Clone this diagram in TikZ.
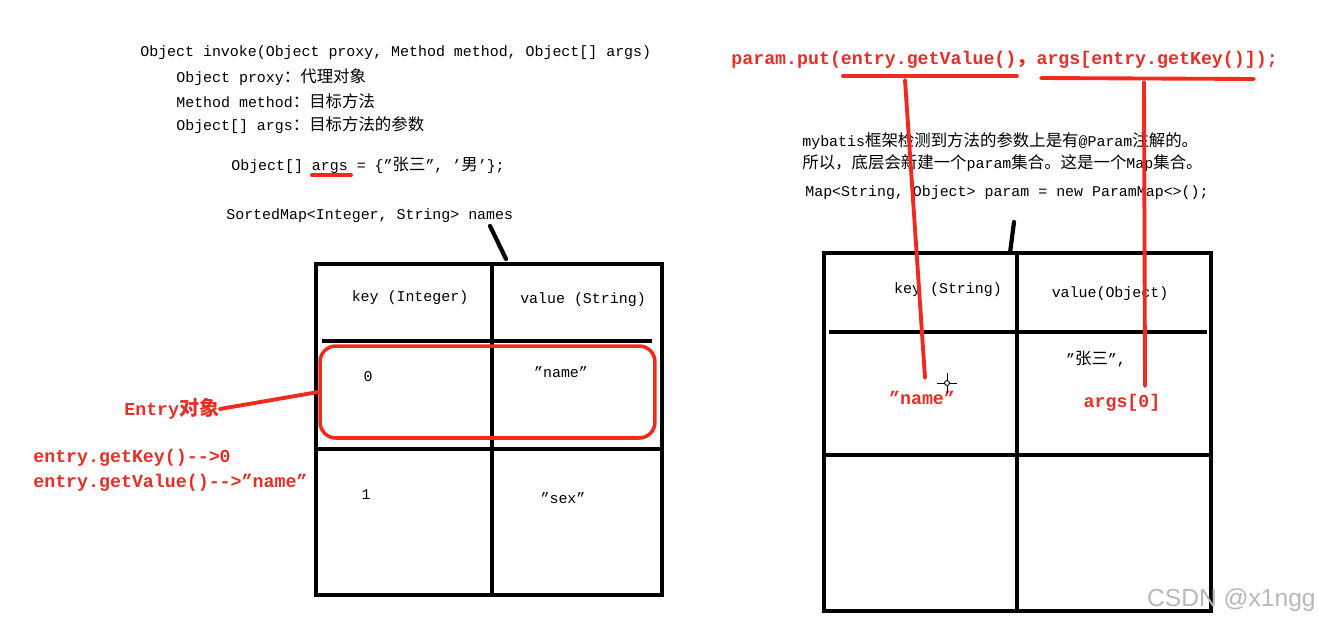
\documentclass[tikz,border=0pt]{standalone}
\usepackage{fontspec}
\setmainfont{Liberation Mono}
\newfontfamily\cjk[Scale=1.1]{Noto Sans CJK SC}
\newfontfamily\wmfont{Liberation Sans}
\newcommand\zh[1]{{\cjk #1}}
\definecolor{myred}{RGB}{240,42,30}
\definecolor{redtext}{RGB}{228,48,38}
\begin{document}
\begin{tikzpicture}[x=0.02cm,y=-0.02cm,
  blk/.style={font=\fontsize{8.5}{10}\selectfont, inner sep=0pt, anchor=west},
  ctr/.style={font=\fontsize{8.5}{10}\selectfont, inner sep=0pt, anchor=center},
  rd/.style={font=\fontsize{10.4}{12}\selectfont\bfseries, text=redtext, inner sep=0pt, anchor=west},
  rdc/.style={font=\fontsize{10.4}{12}\selectfont\bfseries, text=redtext, inner sep=0pt, anchor=center},
  tab/.style={line width=2.6pt, draw=black},
  redln/.style={draw=myred, line width=2.2pt, line cap=round},
  blkln/.style={draw=black, line width=2.4pt, line cap=round}]
\useasboundingbox (0,0) rectangle (1318,622);
\fill[white] (0,0) rectangle (1318,622);

% ---------- left text block ----------
\node[blk] (sig) at (140,53) {Object invoke(Object proxy, Method method, Object[] args)};
\node[blk] (p1) at (176,77) {Object proxy\zh{：代理对象}};
\node[blk] (p2) at (176,101) {Method method\zh{：目标方法}};
\node[blk] (p3) at (176,125) {Object[] args\zh{：目标方法的参数}};
\node[blk] (argsdef) at (231,165) {Object[] args = \{"\zh{张三}", '\zh{男}'\};};
\coordinate (ua1) at (312,175);
\coordinate (ua2) at (351,175);
\draw[redln] (ua1) -- (ua2);
\node[blk] (sm) at (226,216) {SortedMap<Integer, String> names};
\coordinate (nm1) at (490,226);
\coordinate (nm2) at (506,259);
\draw[blkln] (nm1) -- (nm2);

% ---------- left table ----------
\draw[tab] (316,264) rectangle (662,595);
\draw[tab] (492,264) -- (492,595);
\draw[tab] (322,341) -- (652,341);
\draw[tab] (316,449) -- (662,449);
\node[ctr] (lkh) at (410,298) {key (Integer)};
\node[ctr] (lvh) at (583,300) {value (String)};
\node[ctr] (k0) at (368,377) {0};
\node[ctr] (v0) at (561,372) {"name"};
\node[ctr] (k1) at (366,495) {1};
\node[ctr] (v1) at (563,498) {"sex"};
\node[draw=myred, line width=2pt, rounded corners=9pt, inner sep=0pt,
      minimum width=6.7cm, minimum height=1.84cm] (entrybox) at (487.5,392) {};

\node[rd] (entry) at (124,409) {Entry\zh{对象}};
\draw[redln] (entry.east) -- (entrybox.west);
\node[rd] (gk) at (33,458) {entry.getKey()-{}->0};
\node[rd] (gv) at (33,483) {entry.getValue()-{}->"name"};

% ---------- right text block ----------
\node[rd] (put) at (731,60) {param.put(entry.getValue()\zh{，}args[entry.getKey()]);};
\coordinate (ub1) at (843,76);
\coordinate (ub2) at (1017,76);
\coordinate (uc1) at (1041,78);
\coordinate (uc2) at (1254,79);
\draw[redln] (ub1) -- (ub2);
\draw[redln] (uc1) -- (uc2);

\node[blk] (mb1) at (802,141) {mybatis\zh{框架检测到方法的参数上是有}@Param\zh{注解的。}};
\node[blk] (mb2) at (802,163) {\zh{所以，底层会新建一个}param\zh{集合。这是一个}Map\zh{集合。}};
\node[blk] (mapdef) at (805,193) {Map<String, Object> param = new ParamMap<>();};
\coordinate (pm1) at (1014,222);
\coordinate (pm2) at (1010,253);
\draw[blkln] (pm1) -- (pm2);

% ---------- right table ----------
\draw[tab] (824,253) rectangle (1211,611);
\draw[tab] (1017,253) -- (1017,611);
\draw[tab] (829,332) -- (1207,332);
\draw[tab] (824,455) -- (1211,455);
\node[ctr] (rkh) at (948,290) {key (String)};
\node[ctr] (rvh) at (1110,294) {value(Object)};
\node[ctr] (zs) at (1096,359) {"\zh{张三}",};
\node[rdc] (rname) at (922,398) {"name"};
\node[rdc] (rargs) at (1122,403) {args[0]};

\coordinate (l1a) at (905,80);
\coordinate (l1b) at (925,378);
\coordinate (l2a) at (1144,82);
\coordinate (l2b) at (1145,386);
\draw[redln] (l1a) -- (l1b);
\draw[redln] (l2a) -- (l2b);

% cursor crosshair
\coordinate (cur) at (947,383);
\draw[line width=0.5pt] ([xshift=-0.2cm]cur) -- ([xshift=0.2cm]cur);
\draw[line width=0.5pt] ([yshift=-0.2cm]cur) -- ([yshift=0.2cm]cur);
\draw[line width=0.5pt, fill=white] (cur) circle (0.05cm);

% watermark
\node[font=\wmfont\fontsize{14}{16}\selectfont, text=black!28, anchor=east, inner sep=0pt] (wm) at (1316,600) {CSDN @x1ngg};
\end{tikzpicture}
\end{document}
